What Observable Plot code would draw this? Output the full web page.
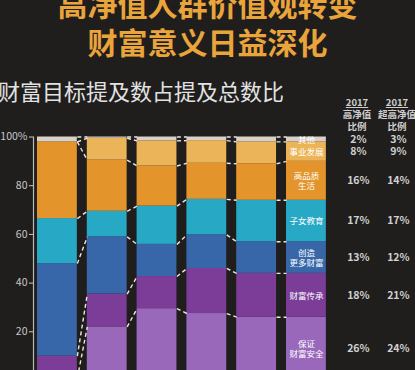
<!DOCTYPE html>
<html><head><meta charset="utf-8">
<script src="https://cdn.jsdelivr.net/npm/d3@7"></script>
<script src="https://cdn.jsdelivr.net/npm/@observablehq/plot@0.6"></script>
<style>
html,body{margin:0;padding:0;background:#1f1e1d;overflow:hidden;width:415px;height:370px;}
#wrap{position:relative;width:415px;height:370px;font-family:"Noto Sans CJK SC",sans-serif;overflow:hidden;}
#title{position:absolute;left:0;top:-16px;width:415px;text-align:center;color:#eaa43c;font-size:30px;line-height:38px;font-weight:bold;}
#subtitle{position:absolute;left:-2px;top:78px;color:#e2e2e2;font-size:22px;line-height:24px;white-space:nowrap;}
.colhead{position:absolute;top:96px;width:46px;text-align:center;color:#cfcfcf;font-size:9.5px;line-height:12px;font-weight:bold;}
#chart{position:absolute;left:0;top:0;}
</style></head>
<body><div id="wrap">
<div id="chart"></div>
<div id="title">高净值人群价值观转变<br>财富意义日益深化</div>
<div id="subtitle">财富目标提及数占提及总数比</div>
<div class="colhead" style="left:334px"><u>2017</u><br>高净值<br>比例</div>
<div class="colhead" style="left:374px"><u>2017</u><br>超高净值<br>比例</div>
</div>
<script>
// categories, bottom to top
const categories = ["保证财富安全","财富传承","创造更多财富","子女教育","高品质生活","事业发展","其他"];
const labels = ["保证\n财富安全","财富传承","创造\n更多财富","子女教育","高品质\n生活","事业发展","其他"];
const colors = ["#9a68bb","#7b3d97","#3767a9","#27a8c4","#e3952c","#ecb458","#d9d0c8"];
const bar1 = [1, 9, 38, 18.5, 31.5, 0, 2];
const bar2 = [22, 13.5, 23.5, 10.5, 21, 9, 0.5];
const bar3 = [29.5, 13.2, 13.2, 15.7, 16.5, 10.3, 1.6];
const bar4 = [27.5, 18.5, 13.8, 14.6, 14.8, 9.3, 1.5];
const bar5 = [26, 18, 13, 17, 15, 9, 2];
const hnw2017 = [26, 18, 13, 17, 16, 8, 2];
const uhnw2017 = [24, 21, 12, 17, 14, 9, 3];
const yTicks = [20, 40, 60, 80, 100];

const bars = [bar1, bar2, bar3, bar4, bar5, hnw2017];
const rows = [];
const bounds = [];
bars.forEach((vals, i) => {
  let c = 0;
  const b = [0];
  vals.forEach((v, k) => {
    rows.push({i, cat: categories[k], label: labels[k], value: v, hnw: hnw2017[k], uhnw: uhnw2017[k], y1: c, y2: c + v, mid: c + v / 2});
    c += v;
    b.push(c);
  });
  bounds.push(b);
});
const links = [];
for (let i = 0; i < bars.length - 1; i++)
  for (let k = 1; k < bounds[i].length; k++)
    links.push({i, a: bounds[i][k], b: bounds[i + 1][k]});

const half = 0.4;
const x0 = -0.48;
const last = rows.filter(d => d.i === bars.length - 1);

const plot = Plot.plot({
  width: 415, height: 400,
  marginTop: 136.5, marginBottom: 20, marginLeft: 33, marginRight: 0,
  x: {domain: [x0, 7.19], axis: null},
  y: {domain: [0, 100], ticks: yTicks, tickFormat: d => d === 100 ? "100%" : String(d), tickSize: 4, tickPadding: 2, label: null},
  color: {domain: categories, range: colors},
  style: {background: "transparent", color: "#c8c8c8", fontFamily: "'Noto Sans CJK SC', sans-serif", fontSize: "10.5px"},
  marks: [
    Plot.ruleX([x0], {y1: 0, y2: 100, stroke: "#b8b8b8", strokeWidth: 1.2}),
    Plot.rect(rows, {x1: d => d.i - half, x2: d => d.i + half, y1: "y1", y2: "y2", fill: "cat"}),
    Plot.link(links, {x1: d => d.i + half, y1: "a", x2: d => d.i + 1 - half, y2: "b", stroke: "#ece6df", strokeWidth: 1.4, strokeDasharray: "4,3"}),
    Plot.text(last, {x: "i", y: "mid", text: "label", fill: "#ffffff", fontSize: 8.5, lineHeight: 1.2}),
    Plot.text(last, {x: "i", y: "mid", dx: 52, text: d => d.hnw + "%", fill: "#d0d0d0", fontSize: 10.5, fontWeight: "bold"}),
    Plot.text(last, {x: "i", y: "mid", dx: 92, text: d => d.uhnw + "%", fill: "#d0d0d0", fontSize: 10.5, fontWeight: "bold"})
  ]
});
document.getElementById("chart").appendChild(plot);
</script>
</body></html>
